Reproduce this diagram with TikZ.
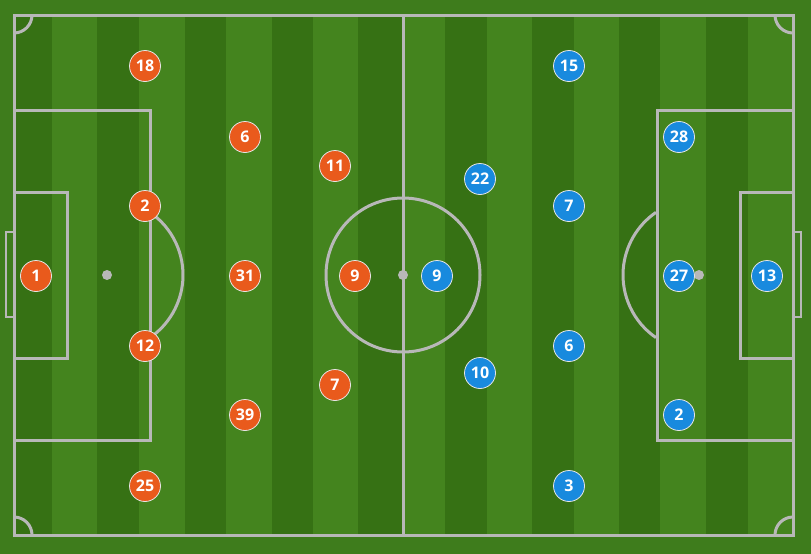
\documentclass[tikz,border=0pt]{standalone}
\usepackage{fontspec}
\setmainfont{Open Sans}
\usepackage{tikz}
\usetikzlibrary{positioning}
\definecolor{grass}{RGB}{62,124,28}
\definecolor{grasslight}{RGB}{68,132,30}
\definecolor{grassdark}{RGB}{54,113,20}
\definecolor{chalk}{RGB}{184,184,184}
\definecolor{hometeam}{RGB}{233,90,28}
\definecolor{awayteam}{RGB}{24,138,222}

\begin{document}
\begin{tikzpicture}[x=1pt, y=-1pt,
    line/.style={draw=chalk, line width=3pt},
    spot/.style={fill=chalk},
    player/.style={circle, draw=white!90!black, line width=0.8pt, minimum size=31pt, inner sep=0pt, text=white, font=\fontsize{16}{16}\selectfont\bfseries},
    home/.style={player, fill=hometeam},
    away/.style={player, fill=awayteam}]

    \useasboundingbox (0,0) rectangle (811,554);
    \fill[grass] (0,0) rectangle (811,554);

    % stripes
    \fill[grasslight] (14,15) rectangle (793,535);
    \foreach \a/\b in {14/52, 97/139, 185/226, 272/313, 358/402, 445/487, 532/574, 619/660, 706/748}
        \fill[grassdark] (\a,15) rectangle (\b,535);

    % pitch lines
    \draw[line] (14,15) rectangle (793,535);
    \draw[line] (403,15) -- (403,535);
    \draw[line] (403,275) circle[radius=77];
    \fill[spot] (403,275) circle[radius=5];

    % left half
    \draw[line] (14,110) rectangle (150,440);
    \draw[line] (14,192) rectangle (67,358);
    \draw[chalk, line width=2pt] (14,232) -- (6,232) -- (6,317) -- (14,317);
    \fill[spot] (107,275) circle[radius=5];
    \draw[line] (107,275) ++(-55.5:76) arc[start angle=-55.5, end angle=55.5, radius=76];

    % right half
    \draw[line] (657,110) rectangle (793,440);
    \draw[line] (740,192) rectangle (793,358);
    \draw[chalk, line width=2pt] (793,232) -- (801,232) -- (801,317) -- (793,317);
    \fill[spot] (699,275) circle[radius=5];
    \draw[line] (699,275) ++(124.5:76) arc[start angle=124.5, end angle=235.5, radius=76];

    % corners
    \draw[line] (14,15) ++(0:18) arc[start angle=0, end angle=90, radius=18];
    \draw[line] (793,15) ++(90:18) arc[start angle=90, end angle=180, radius=18];
    \draw[line] (793,535) ++(180:18) arc[start angle=180, end angle=270, radius=18];
    \draw[line] (14,535) ++(270:18) arc[start angle=270, end angle=360, radius=18];

    % players
    \foreach \n/\x/\y in {18/145/66, 6/245/137, 11/335/166, 2/145/206, 1/36/276, 31/245/276,
                          9/355/276, 12/145/346, 7/335/385, 39/245/415, 25/145/486}
        \node[home] (h\n) at (\x,\y) {\n};
    \foreach \n/\x/\y in {15/569/66, 28/679/137, 22/480/179, 7/569/206, 9/437/276, 27/679/276,
                          13/767/276, 6/569/346, 10/480/373, 2/679/415, 3/569/486}
        \node[away] (a\n) at (\x,\y) {\n};

\end{tikzpicture}
\end{document}
